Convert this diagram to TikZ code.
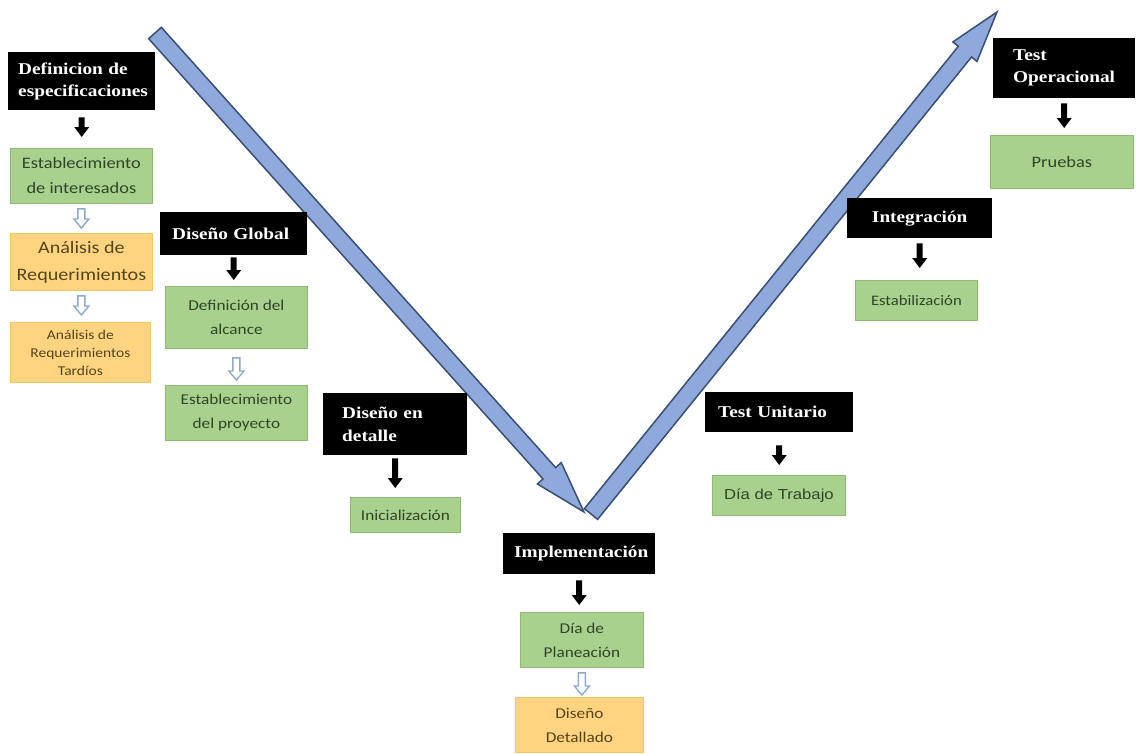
\documentclass[tikz,border=0pt]{standalone}
\usepackage{fontspec}
\usetikzlibrary{calc}
\newfontfamily\labfont[FakeStretch=1.17]{Liberation Serif}
\newfontfamily\boxfont[FakeStretch=1.15]{Carlito}
\newfontfamily\arialfont[FakeStretch=1.15]{Liberation Sans}
\definecolor{vfill}{HTML}{8EA9DB}
\definecolor{vline}{HTML}{3B4E73}
\definecolor{gfill}{HTML}{A9D18E}
\definecolor{gline}{HTML}{8DBB72}
\definecolor{gtext}{HTML}{2E4526}
\definecolor{ofill}{HTML}{FFD480}
\definecolor{oline}{HTML}{F2C462}
\definecolor{otext}{HTML}{54441A}
\definecolor{hollowc}{HTML}{8FAACC}
\tikzset{
  lab/.style={fill=black, text=white, anchor=north west, align=left, inner ysep=0pt,
    font=\labfont\bfseries\fontsize{16.5}{22}\selectfont},
  gbox/.style={fill=gfill, draw=gline, line width=0.8pt, anchor=north west, align=center,
    inner sep=1pt, text=gtext, font=\boxfont\fontsize{15}{24}\selectfont},
  obox/.style={fill=ofill, draw=oline, line width=0.8pt, anchor=north west, align=center,
    inner sep=1pt, text=otext, font=\boxfont\fontsize{15}{24}\selectfont},
  varrow/.style={fill=vfill, draw=vline, line width=1.5pt},
  blackarr/.style={fill=black, to path={let \p1=(\tikztostart), \p2=(\tikztotarget) in
    ({\x1-3pt},\y1) -- ({\x1-3pt},{\y2+10pt}) -- ({\x1-7.5pt},{\y2+10pt}) -- (\x1,\y2)
    -- ({\x1+7.5pt},{\y2+10pt}) -- ({\x1+3pt},{\y2+10pt}) -- ({\x1+3pt},\y1) -- cycle}},
  hollowarr/.style={fill=white, draw=hollowc, line width=1.4pt, to path={let \p1=(\tikztostart), \p2=(\tikztotarget) in
    ({\x1-3.5pt},\y1) -- ({\x1-3.5pt},{\y2+9pt}) -- ({\x1-7.5pt},{\y2+9pt}) -- (\x1,\y2)
    -- ({\x1+7.5pt},{\y2+9pt}) -- ({\x1+3.5pt},{\y2+9pt}) -- ({\x1+3.5pt},\y1) -- cycle}}
}
\begin{document}
\begin{tikzpicture}[x=1pt,y=-1pt]
\fill[white] (0,0) rectangle (1139,753);
\path[use as bounding box] (0,0) rectangle (1139,753);

% descending branch of the V
\coordinate (la) at (155,33);
\coordinate (lb) at (584,512);
\coordinate (lh) at ($(lb)!52pt!(la)$);
\filldraw[varrow] ($(la)!8.5pt!90:(lb)$) -- ($(lh)!8.5pt!90:(lb)$) -- ($(lh)!16pt!90:(lb)$)
  -- (lb) -- ($(lh)!16pt!-90:(lb)$) -- ($(lh)!8.5pt!-90:(lb)$) -- ($(la)!8.5pt!-90:(lb)$) -- cycle;

% ascending branch of the V
\coordinate (ra) at (591,514);
\coordinate (rb) at (997,12);
\coordinate (rh) at ($(rb)!51pt!(ra)$);
\filldraw[varrow] ($(ra)!8.5pt!90:(rb)$) -- ($(rh)!8.5pt!90:(rb)$) -- ($(rh)!15.5pt!90:(rb)$)
  -- (rb) -- ($(rh)!15.5pt!-90:(rb)$) -- ($(rh)!8.5pt!-90:(rb)$) -- ($(ra)!8.5pt!-90:(rb)$) -- cycle;

% phase labels
\node[lab, inner xsep=10pt, text width=127pt, minimum height=58pt] (def) at (8,52) {Definicion de\\especificaciones};
\node[lab, inner xsep=12pt, text width=123pt, minimum height=43pt] (dglob) at (160,212) {Diseño Global};
\node[lab, inner xsep=19pt, text width=106pt, minimum height=62pt, font=\labfont\bfseries\fontsize{16.5}{23}\selectfont] (ddet) at (323,393) {Diseño en\\detalle};
\node[lab, inner xsep=11pt, text width=130pt, minimum height=41pt] (impl) at (503,533) {Implementación};
\node[lab, inner xsep=13pt, text width=122pt, minimum height=40pt] (tunit) at (705,392) {Test Unitario};
\node[lab, inner xsep=10pt, text width=125pt, minimum height=40pt, align=center] (integ) at (847,198) {Integración};
\node[lab, inner xsep=20pt, text width=102pt, minimum height=60pt] (toper) at (993,38) {Test\\Operacional};

% activity boxes
\node[gbox, minimum width=142pt, minimum height=55pt, font=\boxfont\fontsize{16}{25}\selectfont] (g1) at (10,148) {Establecimiento\\de interesados};
\node[obox, minimum width=142pt, minimum height=57pt, font=\boxfont\fontsize{17.5}{27}\selectfont] (o1) at (10,233) {Análisis de\\Requerimientos};
\node[obox, minimum width=140pt, minimum height=60pt, font=\boxfont\fontsize{13.5}{18}\selectfont] (o2) at (10,322) {Análisis de\\Requerimientos\\Tardíos};
\node[gbox, minimum width=142pt, minimum height=62pt] (g2) at (165,286) {Definición del\\alcance};
\node[gbox, minimum width=142pt, minimum height=55pt] (g3) at (165,385) {Establecimiento\\del proyecto};
\node[gbox, minimum width=110pt, minimum height=35pt] (g4) at (350,497) {Inicialización};
\node[gbox, minimum width=123pt, minimum height=55pt] (g5) at (520,612) {Día de\\Planeación};
\node[obox, minimum width=128pt, minimum height=55pt] (o3) at (515,697) {Diseño\\Detallado};
\node[gbox, minimum width=133pt, minimum height=40pt, font=\arialfont\fontsize{14.5}{20}\selectfont] (g6) at (712,475) {Día de Trabajo};
\node[gbox, minimum width=122pt, minimum height=40pt, font=\boxfont\fontsize{14.5}{20}\selectfont] (g7) at (855,280) {Estabilización};
\node[gbox, minimum width=143pt, minimum height=53pt, font=\boxfont\fontsize{16}{20}\selectfont] (g8) at (990,135) {Pruebas};

% solid arrows: phase -> first activity
\path[blackarr] ([yshift=-7pt]def.south) to ([yshift=11pt]def.south |- g1.north);
\path[blackarr] ([yshift=-2pt]dglob.south) to ([yshift=6pt]dglob.south |- g2.north);
\path[blackarr] ([yshift=-3pt]ddet.south) to ([yshift=9pt]ddet.south |- g4.north);
\path[blackarr] ([yshift=-6pt]impl.south) to ([yshift=7pt]impl.south |- g5.north);
\path[blackarr] ([yshift=-13pt]tunit.south) to ([yshift=10pt]tunit.south |- g6.north);
\path[blackarr] ([yshift=-5pt]integ.south) to ([yshift=12pt]integ.south |- g7.north);
\path[blackarr] ([yshift=-5pt]toper.south) to ([yshift=7pt]toper.south |- g8.north);

% outlined arrows between activities
\path[hollowarr] ([yshift=-5pt]g1.south) to ([yshift=5pt]g1.south |- o1.north);
\path[hollowarr] ([yshift=-5pt]o1.south) to ([yshift=7pt]o1.south |- o2.north);
\path[hollowarr] ([yshift=-9pt]g2.south) to ([yshift=5pt]g2.south |- g3.north);
\path[hollowarr] ([yshift=-5pt]g5.south) to ([yshift=2pt]g5.south |- o3.north);
\end{tikzpicture}
\end{document}
